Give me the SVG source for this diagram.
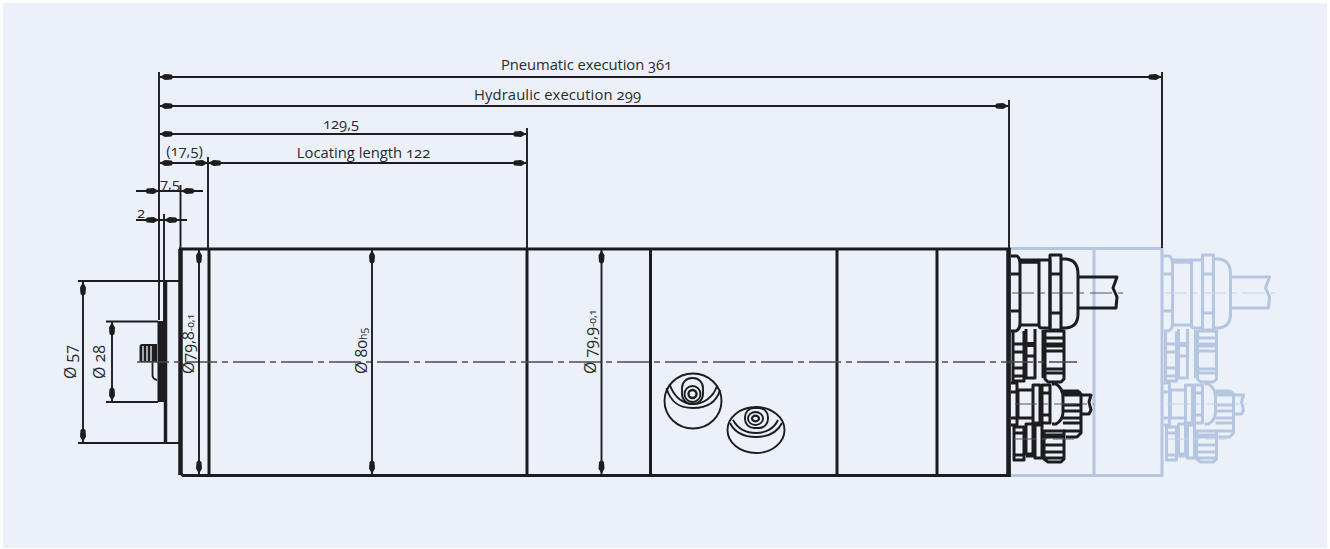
<svg xmlns="http://www.w3.org/2000/svg" width="1330" height="549" viewBox="0 0 1330 549">
<style>
text{font-family:"Open Sans","Noto Sans",sans-serif;font-size:14.8px;fill:#2a2a2c;font-feature-settings:"onum";text-anchor:middle}
.rot{font-size:16px;text-anchor:start}
.sub{font-size:10.500px}
.dim{stroke:#1d1d1f;stroke-width:1.9;fill:none}
.arr{marker-start:url(#a);marker-end:url(#a)}
.arl{marker-end:url(#a)}
.ext{stroke:#1d1d1f;stroke-width:1.9;fill:none}
.body{stroke:#1d1d1f;stroke-width:3;fill:none}
.cl{stroke:#4a4b50;stroke-width:1.300;fill:none;stroke-dasharray:32 5 6 5}
.g{fill:none;stroke-width:3;stroke-linejoin:round}
.b{fill:none;stroke-width:5}
.gt{fill:none;stroke-width:1.200}
.eye{fill:none;stroke:#1d1d1f;stroke-width:1.900}
</style>
<defs>
<marker id="a" viewBox="0 0 14 7" refX="14" refY="3.500" markerWidth="14" markerHeight="7" markerUnits="userSpaceOnUse" orient="auto-start-reverse">
<path d="M14 3.500L8.500 0.500L2 1L0 3.500L2 6L8.500 6.500Z" fill="#1d1d1f"/>
</marker>
<g id="glandset">
<path class="g" d="M1011 256H1017Q1020 258 1020 264V324Q1020 329 1016 331H1011"/>
<path class="g" d="M1011 274H1019M1011 311H1019"/>
<path class="g" d="M1020 262H1039M1020 325H1039"/>
<path class="b" d="M1020 261H1039"/>
<path class="g" d="M1039 260H1050V328H1042Q1039 328 1039 325V262Z"/>
<path class="g" d="M1050 255H1061V330H1050ZM1050 274H1061M1050 313H1061"/>
<path class="g" d="M1061 259H1066Q1078 260 1078 274V314Q1078 327 1066 328H1061"/>
<path class="g" d="M1078 277H1117L1113 288L1117 297L1116 308H1078"/>
<path class="g" d="M1013 331V381H1024V331M1013 344H1024M1013 352H1024M1013 368H1024M1013 376H1024"/>
<path class="g" d="M1026 329V378H1035V329M1026 356H1035"/>
<path class="b" d="M1026 344.500H1035"/>
<path class="g" d="M1043 330V378"/>
<path class="g" d="M1045 331H1064V379L1061 382H1048L1045 379ZM1045 338H1064M1045 351H1064M1045 369H1064M1045 373H1064"/>
<path class="b" d="M1045 345H1064"/>
<path class="g" d="M1011 383H1017V425H1011M1011 392H1017M1011 418H1017"/>
<path class="g" d="M1018 390H1033V418H1018ZM1033 385H1040V423H1033ZM1042 385H1050V423H1042ZM1042 393H1050M1042 415H1050"/>
<path class="g" d="M1052 384H1056Q1063 388 1063 398V412Q1063 420 1056 424H1052"/>
<path class="g" d="M1063 391H1078L1081 394V433L1077 437H1066M1063 405H1081M1063 411H1081M1063 418H1081M1063 423H1081M1063 431H1080"/>
<path class="b" d="M1063 394H1081"/>
<path class="g" d="M1081 395H1091L1089 402L1091 410L1089 414H1081"/>
<path class="g" d="M1014 427H1024V460H1014ZM1014 433H1024M1014 455H1024"/>
<path class="g" d="M1026 424H1033V454H1026ZM1035 425H1042V458H1035ZM1026 456H1035"/>
<path class="g" d="M1044 431H1064V459L1061 462H1048L1044 459ZM1044 445H1064M1044 452H1064M1044 458H1064"/>
<path class="b" d="M1044 436H1064"/>
</g>
<g id="glandcl">
<path d="M1012 293H1124M1015 404H1094M1014 439H1074" class="gt" stroke-dasharray="22 6 5 6"/>
</g>
</defs>

<rect width="1330" height="549" fill="#fff"/>
<rect x="3" y="3" width="1324" height="545" fill="#ecf1f9"/>

<g id="ghost-housing" fill="none" stroke="#b5c6e1" stroke-width="3">
<path d="M1010 248.500H1162V475.500H1010M1094 248.500V475.500M1162 248.500V475.500"/>
<use href="#glandset" x="152.500" stroke="#b5c6e1"/>
<use href="#glandcl" x="152.500" stroke="#c3d1e8"/>
</g>

<g id="spindle-body">
<path class="body" d="M180.500 249H1009V475.500H183L180.500 473Z"/>
<path class="body" d="M209 249V475.500M527 249V475.500M650.500 249V475.500M837 249V475.500M937 249V475.500"/>
<path d="M180.500 249V475" stroke="#1d1d1f" stroke-width="4.500"/>
<path d="M1008.500 248V477" stroke="#1d1d1f" stroke-width="4.500"/>
</g>

<g id="flange">
<path class="ext" d="M166 281H179M166 443H179"/>
<path d="M165.500 281V443" stroke="#1d1d1f" stroke-width="3.500"/>
<rect x="157.500" y="321" width="8" height="81" fill="#1d1d1f"/>
<path d="M157 344H142Q139.500 344 139.500 347V362H157Z" fill="#1d1d1f"/>
<path d="M152.500 362V375Q152.500 379 157 380" fill="none" stroke="#1d1d1f" stroke-width="1.800"/>
<path d="M143 346V361M147 346V361M151 346V361" stroke="#ecf1f9" stroke-width="1.300"/>
</g>

<g id="port-1" class="eye">
<ellipse cx="693" cy="401" rx="28.500" ry="27.500"/>
<path d="M666.500 388C671 404 681 408 693 408C705 408 716 404 720 390"/>
<path d="M669.500 384C674 398 684 404 693 404C703 404 713 398 717 386"/>
<rect x="682" y="378" width="21" height="26" rx="10"/>
<circle cx="692.500" cy="394" r="8"/>
<circle cx="692.500" cy="394" r="4" stroke-width="2.400"/>
</g>
<g id="port-2" class="eye">
<ellipse cx="756" cy="430" rx="28.500" ry="23"/>
<path d="M730 423C735 433 745 437 756 437C767 437 777 433 782 423"/>
<path d="M733 420C738 429 747 433 756 433C765 433 774 429 778 420"/>
<rect x="745" y="408" width="23" height="20" rx="9"/>
<ellipse cx="755.500" cy="418.500" rx="7.500" ry="6.500"/>
<ellipse cx="755.500" cy="418.500" rx="3.500" ry="2.800" stroke-width="2.200"/>
</g>

<g id="cable-glands">
<use href="#glandset" stroke="#1d1d1f"/>
<use href="#glandcl" stroke="#55565a"/>
</g>

<path class="cl" d="M137 362H1077"/>

<g id="connectors">
<path class="ext" d="M159 72V320M164 214V321M180.500 185V248M208 157V248M527 128V248M1009 100V248M1162 72V248"/>
<path class="ext" d="M78 281H166M78 443H166M106 321.500H158M106 402H158"/>
<path class="dim arr" d="M159.500 77H1161.500"/>
<path class="dim arr" d="M159.500 106H1008.500"/>
<path class="dim arr" d="M159.500 134H526.500"/>
<path class="dim arr" d="M159.500 163H208"/>
<path class="dim arr" d="M208 163H526.500"/>
<path class="dim" d="M136 191H203"/>
<path class="dim arl" d="M136 191H159"/>
<path class="dim arl" d="M203 191H181"/>
<path class="dim" d="M136 220H187"/>
<path class="dim arl" d="M136 220H159"/>
<path class="dim arl" d="M187 220H164"/>
<path class="dim arr" d="M83 282V442"/>
<path class="dim arr" d="M112 322V401"/>
<path class="dim arr" d="M199 250V474"/>
<path class="dim arr" d="M372 250V474"/>
<path class="dim arr" d="M601.500 250V474"/>
</g>

<g id="labels">
<text x="586.500" y="70" textLength="171">Pneumatic execution 361</text>
<text x="557.500" y="100" textLength="167">Hydraulic execution 299</text>
<text x="341" y="129">129,5</text>
<text x="363.500" y="158">Locating length 122</text>
<text x="184.500" y="156">(17,5)</text>
<text x="170" y="189">7,5</text>
<text x="141" y="218">2</text>
<text class="rot" transform="translate(76 379) rotate(-90)">Ø 57</text>
<text class="rot" transform="translate(105 379) rotate(-90)">Ø 28</text>
<text class="rot" transform="translate(194 374) rotate(-90)">Ø79,8<tspan class="sub">-0,1</tspan></text>
<text class="rot" transform="translate(367 374) rotate(-90)">Ø 80<tspan class="sub">h5</tspan></text>
<text class="rot" transform="translate(596 374) rotate(-90)">Ø 79,9<tspan class="sub">-0,1</tspan></text>
</g>
</svg>
